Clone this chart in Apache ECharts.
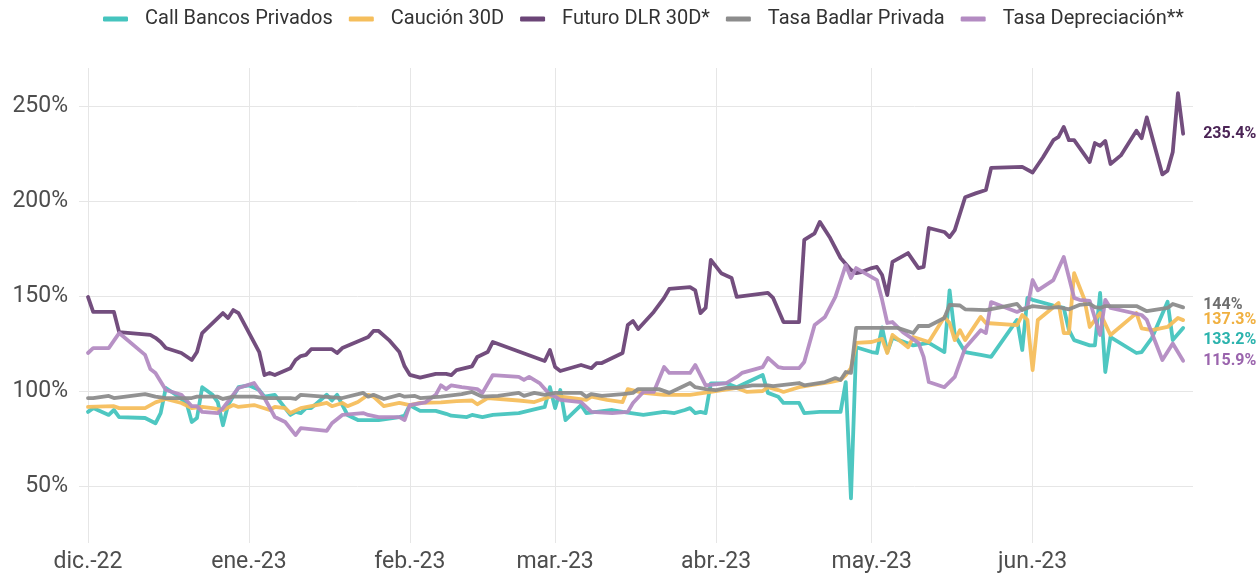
<!DOCTYPE html>
<html>
<head>
<meta charset="utf-8">
<script src="https://cdn.jsdelivr.net/npm/echarts@6/dist/echarts.min.js"></script>
<style>html,body{margin:0;padding:0;background:#fff}#c{width:1260px;height:577px}</style>
</head>
<body>
<div id="c"></div>
<script>
const SERIES_NAMES = ['Call Bancos Privados','Caución 30D','Futuro DLR 30D*','Tasa Badlar Privada','Tasa Depreciación**'];
const MONTH_TICKS = ['2022-12-01','2023-01-01','2023-02-01','2023-03-01','2023-04-01','2023-05-01','2023-06-01'];
const MONTH_LABELS = ['dic.-22','ene.-23','feb.-23','mar.-23','abr.-23','may.-23','jun.-23'];
const Y_TICKS = [50,100,150,200,250];

const futuroDLR = [
['2022-12-01',149.5],['2022-12-02',141.6],['2022-12-06',141.6],['2022-12-07',131],['2022-12-13',129.5],['2022-12-14',128],
['2022-12-15',125.8],['2022-12-16',122.6],['2022-12-19',120],['2022-12-21',116.3],['2022-12-22',120.5],['2022-12-23',130.5],
['2022-12-27',141],['2022-12-28',138.4],['2022-12-29',142.6],['2022-12-30',141],['2023-01-03',120.5],['2023-01-04',108.4],
['2023-01-05',109.5],['2023-01-06',108.4],['2023-01-09',112],['2023-01-10',116.3],['2023-01-11',118.4],['2023-01-12',119],
['2023-01-13',122],['2023-01-17',122],['2023-01-18',120],['2023-01-19',122.6],['2023-01-24',128.4],['2023-01-25',131.6],
['2023-01-26',131.6],['2023-01-28',126.8],['2023-01-30',120.5],['2023-01-31',113],['2023-02-01',108.5],['2023-02-03',107],
['2023-02-06',109],['2023-02-08',109],['2023-02-09',108.4],['2023-02-10',111],['2023-02-13',113],['2023-02-14',117.9],
['2023-02-16',120.5],['2023-02-17',125.8],['2023-02-27',115.8],['2023-02-28',121.6],['2023-03-01',112.6],['2023-03-02',110.5],
['2023-03-06',113.7],['2023-03-08',112],['2023-03-09',114.7],['2023-03-10',114.7],['2023-03-14',120],['2023-03-15',134.7],
['2023-03-16',136.8],['2023-03-17',132.6],['2023-03-20',141.6],['2023-03-22',149],['2023-03-23',153.7],['2023-03-27',154.7],
['2023-03-28',153],['2023-03-29',141],['2023-03-30',143.7],['2023-03-31',169],['2023-04-02',162],['2023-04-04',159.5],
['2023-04-05',149.5],['2023-04-11',151.6],['2023-04-12',149],['2023-04-14',136.3],['2023-04-17',136.3],['2023-04-18',179.5],
['2023-04-20',183],['2023-04-21',189],['2023-04-23',180.5],['2023-04-25',170],['2023-04-27',163.7],['2023-04-28',162],
['2023-04-29',162.6],['2023-05-01',164.7],['2023-05-02',165.3],['2023-05-03',161],['2023-05-04',150.5],['2023-05-05',168],
['2023-05-08',172.6],['2023-05-10',164.7],['2023-05-11',165.3],['2023-05-12',185.8],['2023-05-15',183.7],['2023-05-16',181],
['2023-05-17',184.7],['2023-05-19',202],['2023-05-21',204],['2023-05-23',205.8],['2023-05-24',217.4],['2023-05-30',218],
['2023-06-01',215],['2023-06-03',223],['2023-06-05',232],['2023-06-06',233.7],['2023-06-07',239],['2023-06-08',232],
['2023-06-09',232],['2023-06-12',220.5],['2023-06-13',230.5],['2023-06-14',229],['2023-06-15',231.6],['2023-06-16',219.5],
['2023-06-18',224],['2023-06-21',237],['2023-06-22',233],['2023-06-23',244],['2023-06-26',214],['2023-06-27',216],
['2023-06-28',225.8],['2023-06-29',256.8],['2023-06-30',235.4]
];

const callBancos = [
['2022-12-01',89],['2022-12-02',91],['2022-12-05',87.4],['2022-12-06',90],['2022-12-07',86.3],['2022-12-12',85.8],
['2022-12-14',83],['2022-12-15',88.4],['2022-12-16',101.6],['2022-12-18',97.9],['2022-12-20',93.7],['2022-12-21',83.7],
['2022-12-22',85.8],['2022-12-23',102],['2022-12-25',98],['2022-12-26',94.2],['2022-12-27',82],['2022-12-28',92.6],
['2022-12-30',102],['2023-01-01',103],['2023-01-03',100.5],['2023-01-04',97],['2023-01-06',98],['2023-01-09',87.4],
['2023-01-10',89],['2023-01-11',88.4],['2023-01-12',91],['2023-01-13',91],['2023-01-16',98],['2023-01-17',95],
['2023-01-18',98],['2023-01-20',87.4],['2023-01-22',84.7],['2023-01-26',84.7],['2023-01-30',86.3],['2023-01-31',87],
['2023-02-01',92.6],['2023-02-02',91],['2023-02-03',89.5],['2023-02-06',89.5],['2023-02-08',88],['2023-02-09',87],
['2023-02-12',86.3],['2023-02-13',87.4],['2023-02-15',86.3],['2023-02-17',87.4],['2023-02-22',88.4],['2023-02-27',91.6],
['2023-02-28',102],['2023-03-01',91],['2023-03-02',100.5],['2023-03-03',84.7],['2023-03-06',92.6],['2023-03-07',88.4],
['2023-03-09',89],['2023-03-12',90],['2023-03-14',89],['2023-03-18',87.4],['2023-03-22',89],['2023-03-24',88.4],
['2023-03-26',90],['2023-03-27',91],['2023-03-28',88.4],['2023-03-29',89],['2023-03-30',88.4],['2023-03-31',104],
['2023-04-03',104],['2023-04-05',102],['2023-04-10',108.4],['2023-04-11',99],['2023-04-13',97],['2023-04-14',93.7],
['2023-04-17',93.7],['2023-04-18',88.4],['2023-04-21',89],['2023-04-25',89],['2023-04-26',104.7],['2023-04-27',43.5],
['2023-04-28',123],['2023-05-01',120.5],['2023-05-02',120],['2023-05-03',133.5],['2023-05-04',120.5],['2023-05-05',128],
['2023-05-09',124],['2023-05-12',125.3],['2023-05-15',120.5],['2023-05-16',153],['2023-05-17',129.5],['2023-05-19',120.5],
['2023-05-22',119],['2023-05-24',118],['2023-05-29',137.4],['2023-05-30',121.6],['2023-05-31',149],['2023-06-01',148],
['2023-06-05',145],['2023-06-07',143.7],['2023-06-08',132],['2023-06-09',126.8],['2023-06-12',124],['2023-06-13',124],
['2023-06-14',151.6],['2023-06-15',110],['2023-06-16',128.4],['2023-06-21',120],['2023-06-22',120.5],['2023-06-24',128],
['2023-06-27',147],['2023-06-28',126.8],['2023-06-30',133.2]
];

const caucion30 = [
['2022-12-01',91.6],['2022-12-06',92],['2022-12-07',91],['2022-12-12',91],['2022-12-14',94],['2022-12-16',95.8],
['2022-12-19',93.7],['2022-12-21',91],['2022-12-23',91.6],['2022-12-25',91],['2022-12-27',90],['2022-12-29',92.6],
['2022-12-30',91.6],['2023-01-02',92.6],['2023-01-05',90],['2023-01-06',91.6],['2023-01-08',91],['2023-01-09',88.4],
['2023-01-11',91],['2023-01-14',92.6],['2023-01-16',93.7],['2023-01-17',92],['2023-01-19',93.7],['2023-01-20',92],
['2023-01-22',94.2],['2023-01-24',98],['2023-01-25',97],['2023-01-27',92],['2023-01-30',93.7],['2023-02-01',92.6],
['2023-02-03',93.7],['2023-02-07',94],['2023-02-10',94.7],['2023-02-13',95],['2023-02-14',93],['2023-02-16',96.3],
['2023-02-22',95],['2023-02-25',94.2],['2023-02-28',97],['2023-03-01',97.4],['2023-03-07',95.3],['2023-03-08',97],
['2023-03-11',95.3],['2023-03-14',94.2],['2023-03-15',101],['2023-03-18',99],['2023-03-22',98],['2023-03-27',98],
['2023-03-31',99.5],['2023-04-05',101.6],['2023-04-07',99.5],['2023-04-10',100],['2023-04-11',102],['2023-04-13',100.5],
['2023-04-14',99.5],['2023-04-17',102],['2023-04-19',103],['2023-04-23',104.7],['2023-04-25',105.8],['2023-04-26',108.4],
['2023-04-27',112],['2023-04-28',125.3],['2023-05-01',125.8],['2023-05-03',127.4],['2023-05-04',120],['2023-05-05',129.5],
['2023-05-08',123],['2023-05-09',128.4],['2023-05-12',125.8],['2023-05-15',139],['2023-05-16',135.8],['2023-05-17',126.8],
['2023-05-18',132],['2023-05-19',126.8],['2023-05-22',139],['2023-05-23',135.8],['2023-05-29',134.7],['2023-05-30',140],
['2023-05-31',137.4],['2023-06-01',111],['2023-06-02',137.4],['2023-06-06',146.3],['2023-06-07',130.5],['2023-06-08',130.5],
['2023-06-09',162],['2023-06-11',148],['2023-06-12',133.7],['2023-06-14',141],['2023-06-16',129.5],['2023-06-21',141],
['2023-06-22',133],['2023-06-24',132],['2023-06-27',133.7],['2023-06-29',138.4],['2023-06-30',137.3]
];

const badlar = [
['2022-12-01',96.3],['2022-12-02',96.3],['2022-12-05',97.4],['2022-12-06',96.3],['2022-12-12',98.4],['2022-12-14',97],
['2022-12-16',96.3],['2022-12-21',96.3],['2022-12-22',97],['2022-12-26',97],['2022-12-27',95.8],['2022-12-29',97],
['2023-01-02',97],['2023-01-04',96.3],['2023-01-09',96.3],['2023-01-10',95.8],['2023-01-11',98],['2023-01-19',96.3],
['2023-01-23',99],['2023-01-24',97],['2023-01-25',98],['2023-01-27',95.8],['2023-01-30',98],['2023-01-31',97],
['2023-02-02',97.4],['2023-02-03',96.3],['2023-02-07',97],['2023-02-11',98.4],['2023-02-13',99.5],['2023-02-15',97],
['2023-02-18',97.4],['2023-02-22',99],['2023-02-23',97.4],['2023-02-25',99],['2023-02-27',98],['2023-03-01',99],
['2023-03-06',99],['2023-03-07',97],['2023-03-08',98.4],['2023-03-10',97.4],['2023-03-14',98.4],['2023-03-16',99],
['2023-03-17',101],['2023-03-21',101],['2023-03-23',99],['2023-03-25',101.6],['2023-03-27',104.2],['2023-03-28',102],
['2023-03-30',101],['2023-04-01',100.5],['2023-04-03',101.6],['2023-04-05',101.6],['2023-04-08',103],['2023-04-11',103],
['2023-04-12',102.6],['2023-04-17',104.2],['2023-04-18',103],['2023-04-22',104.7],['2023-04-24',106.8],['2023-04-25',105.8],
['2023-04-26',110],['2023-04-27',109.5],['2023-04-28',133.2],['2023-05-06',133.2],['2023-05-09',130.5],['2023-05-10',134.2],
['2023-05-12',134.2],['2023-05-15',138.4],['2023-05-16',145.3],['2023-05-18',145],['2023-05-19',143],['2023-05-23',142.6],
['2023-05-26',144.2],['2023-05-29',145.8],['2023-05-30',142.6],['2023-06-01',144.7],['2023-06-04',143.7],['2023-06-06',144.2],
['2023-06-08',143],['2023-06-10',145.3],['2023-06-12',145.8],['2023-06-13',144.2],['2023-06-14',143.7],['2023-06-15',144.7],
['2023-06-21',144.7],['2023-06-23',142],['2023-06-27',143.7],['2023-06-28',145.8],['2023-06-30',144]
];

const depreciacion = [
['2022-12-01',120],['2022-12-02',122.6],['2022-12-05',122.6],['2022-12-07',130.5],['2022-12-12',119],['2022-12-13',111.6],
['2022-12-14',109.5],['2022-12-16',100.5],['2022-12-19',98],['2022-12-21',92],['2022-12-22',92],['2022-12-23',89],
['2022-12-26',88.4],['2022-12-27',91],['2022-12-30',101.6],['2023-01-02',104.2],['2023-01-04',96.3],['2023-01-06',86.3],
['2023-01-08',83.7],['2023-01-10',76.8],['2023-01-11',80.5],['2023-01-16',79],['2023-01-17',83],['2023-01-19',87.4],
['2023-01-23',88.4],['2023-01-24',87.4],['2023-01-26',86.3],['2023-01-30',86.3],['2023-01-31',84.7],['2023-02-01',92.6],
['2023-02-04',94],['2023-02-06',98],['2023-02-07',103],['2023-02-08',101],['2023-02-09',103],['2023-02-11',102],
['2023-02-14',101],['2023-02-15',99],['2023-02-17',108.4],['2023-02-22',107.4],['2023-02-23',105.8],['2023-02-24',107.4],
['2023-02-26',104.2],['2023-02-28',98],['2023-03-01',97],['2023-03-02',95.3],['2023-03-06',94.2],['2023-03-08',89],
['2023-03-12',88.4],['2023-03-15',89],['2023-03-16',93.7],['2023-03-18',99.5],['2023-03-20',99.5],['2023-03-22',112.6],
['2023-03-23',109.5],['2023-03-27',109.5],['2023-03-28',113.7],['2023-03-30',103],['2023-04-03',104.2],['2023-04-05',107.4],
['2023-04-06',109.5],['2023-04-10',112.6],['2023-04-11',117.4],['2023-04-13',112.6],['2023-04-14',112],['2023-04-17',112],
['2023-04-18',115.3],['2023-04-20',134.7],['2023-04-22',139],['2023-04-24',149.5],['2023-04-26',166.3],['2023-04-27',159.5],
['2023-04-28',164.7],['2023-05-02',158.4],['2023-05-03',148],['2023-05-04',135.8],['2023-05-05',136.3],['2023-05-07',131],
['2023-05-10',125.3],['2023-05-11',118],['2023-05-12',104.7],['2023-05-15',102],['2023-05-17',107.4],['2023-05-19',122.6],
['2023-05-22',132],['2023-05-23',130.5],['2023-05-24',146.8],['2023-05-28',142.6],['2023-05-29',141.6],['2023-05-31',144.2],
['2023-06-01',158.4],['2023-06-02',153],['2023-06-05',158.4],['2023-06-07',170.5],['2023-06-09',149],['2023-06-10',148],
['2023-06-12',147.4],['2023-06-14',129.5],['2023-06-15',148],['2023-06-16',143.7],['2023-06-22',140],['2023-06-23',137.4],
['2023-06-26',116.3],['2023-06-28',125],['2023-06-30',115.9]
];

const DAY = 86400000;
function ts(s){ const p = s.split('-').map(Number); return Date.UTC(p[0], p[1]-1, p[2]); }
const monthTs = MONTH_TICKS.map(ts);
const xMin = ts('2022-12-01') - 1.73 * DAY;
const xMax = ts('2023-06-30') + 1.9 * DAY;

const colors = ['#45c4be','#f5be5c','#6b4577','#8c8c8c','#b38bc2'];
const labelColors = ['#2bb3ad','#f0b040','#4b2456','#6e6e6e','#9a64ad'];
const labelOffsets = [[0,12],[0,0],[0,0],[0,-2],[0,0]];
const datasets = [callBancos, caucion30, futuroDLR, badlar, depreciacion];

const series = SERIES_NAMES.map((name, i) => ({
  name,
  type: 'line',
  data: datasets[i].map(d => [ts(d[0]), d[1]]),
  showSymbol: false,
  symbol: 'none',
  smooth: false,
  lineStyle: { width: 3.8, color: colors[i], opacity: 0.95, join: 'round', cap: 'round' },
  itemStyle: { color: colors[i] },
  z: [3,3,4,5,4][i],
  endLabel: {
    show: true,
    distance: 20,
    offset: labelOffsets[i],
    formatter: p => (Math.round(p.value[1]*10)/10) + '%',
    color: labelColors[i],
    fontFamily: 'Roboto',
    fontWeight: 'bold',
    fontSize: 16
  },
  emphasis: { disabled: true }
}));

const chart = echarts.init(document.getElementById('c'), null, { renderer: 'canvas' });
chart.setOption({
  animation: false,
  color: colors,
  textStyle: { fontFamily: 'Roboto' },
  legend: {
    top: 4,
    left: 98,
    icon: 'roundRect',
    itemWidth: 25,
    itemHeight: 5,
    itemGap: 16,
    textStyle: { fontSize: 20, color: '#333', fontFamily: 'Roboto', padding: [0,0,0,12] },
    data: SERIES_NAMES
  },
  grid: { left: 79, right: 67, top: 68, bottom: 34, containLabel: false },
  xAxis: {
    type: 'value',
    min: xMin,
    max: xMax,
    axisLine: { show: false },
    axisTick: { show: false, customValues: monthTs },
    axisLabel: {
      customValues: monthTs,
      margin: 8,
      fontSize: 23,
      color: '#4d4d4d',
      fontFamily: 'Roboto',
      formatter: v => { const k = monthTs.indexOf(v); return k >= 0 ? MONTH_LABELS[k] : ''; }
    },
    splitLine: { show: true, lineStyle: { color: '#e6e6e6', width: 1 } }
  },
  yAxis: {
    type: 'value',
    min: 20,
    max: 270,
    axisLine: { show: false },
    axisTick: { show: false, customValues: Y_TICKS },
    axisLabel: {
      customValues: Y_TICKS,
      margin: 11,
      fontSize: 23,
      color: '#4d4d4d',
      fontFamily: 'Roboto',
      formatter: v => v + '%'
    },
    splitLine: { show: true, lineStyle: { color: '#e6e6e6', width: 1 } }
  },
  series
});
</script>
</body>
</html>
